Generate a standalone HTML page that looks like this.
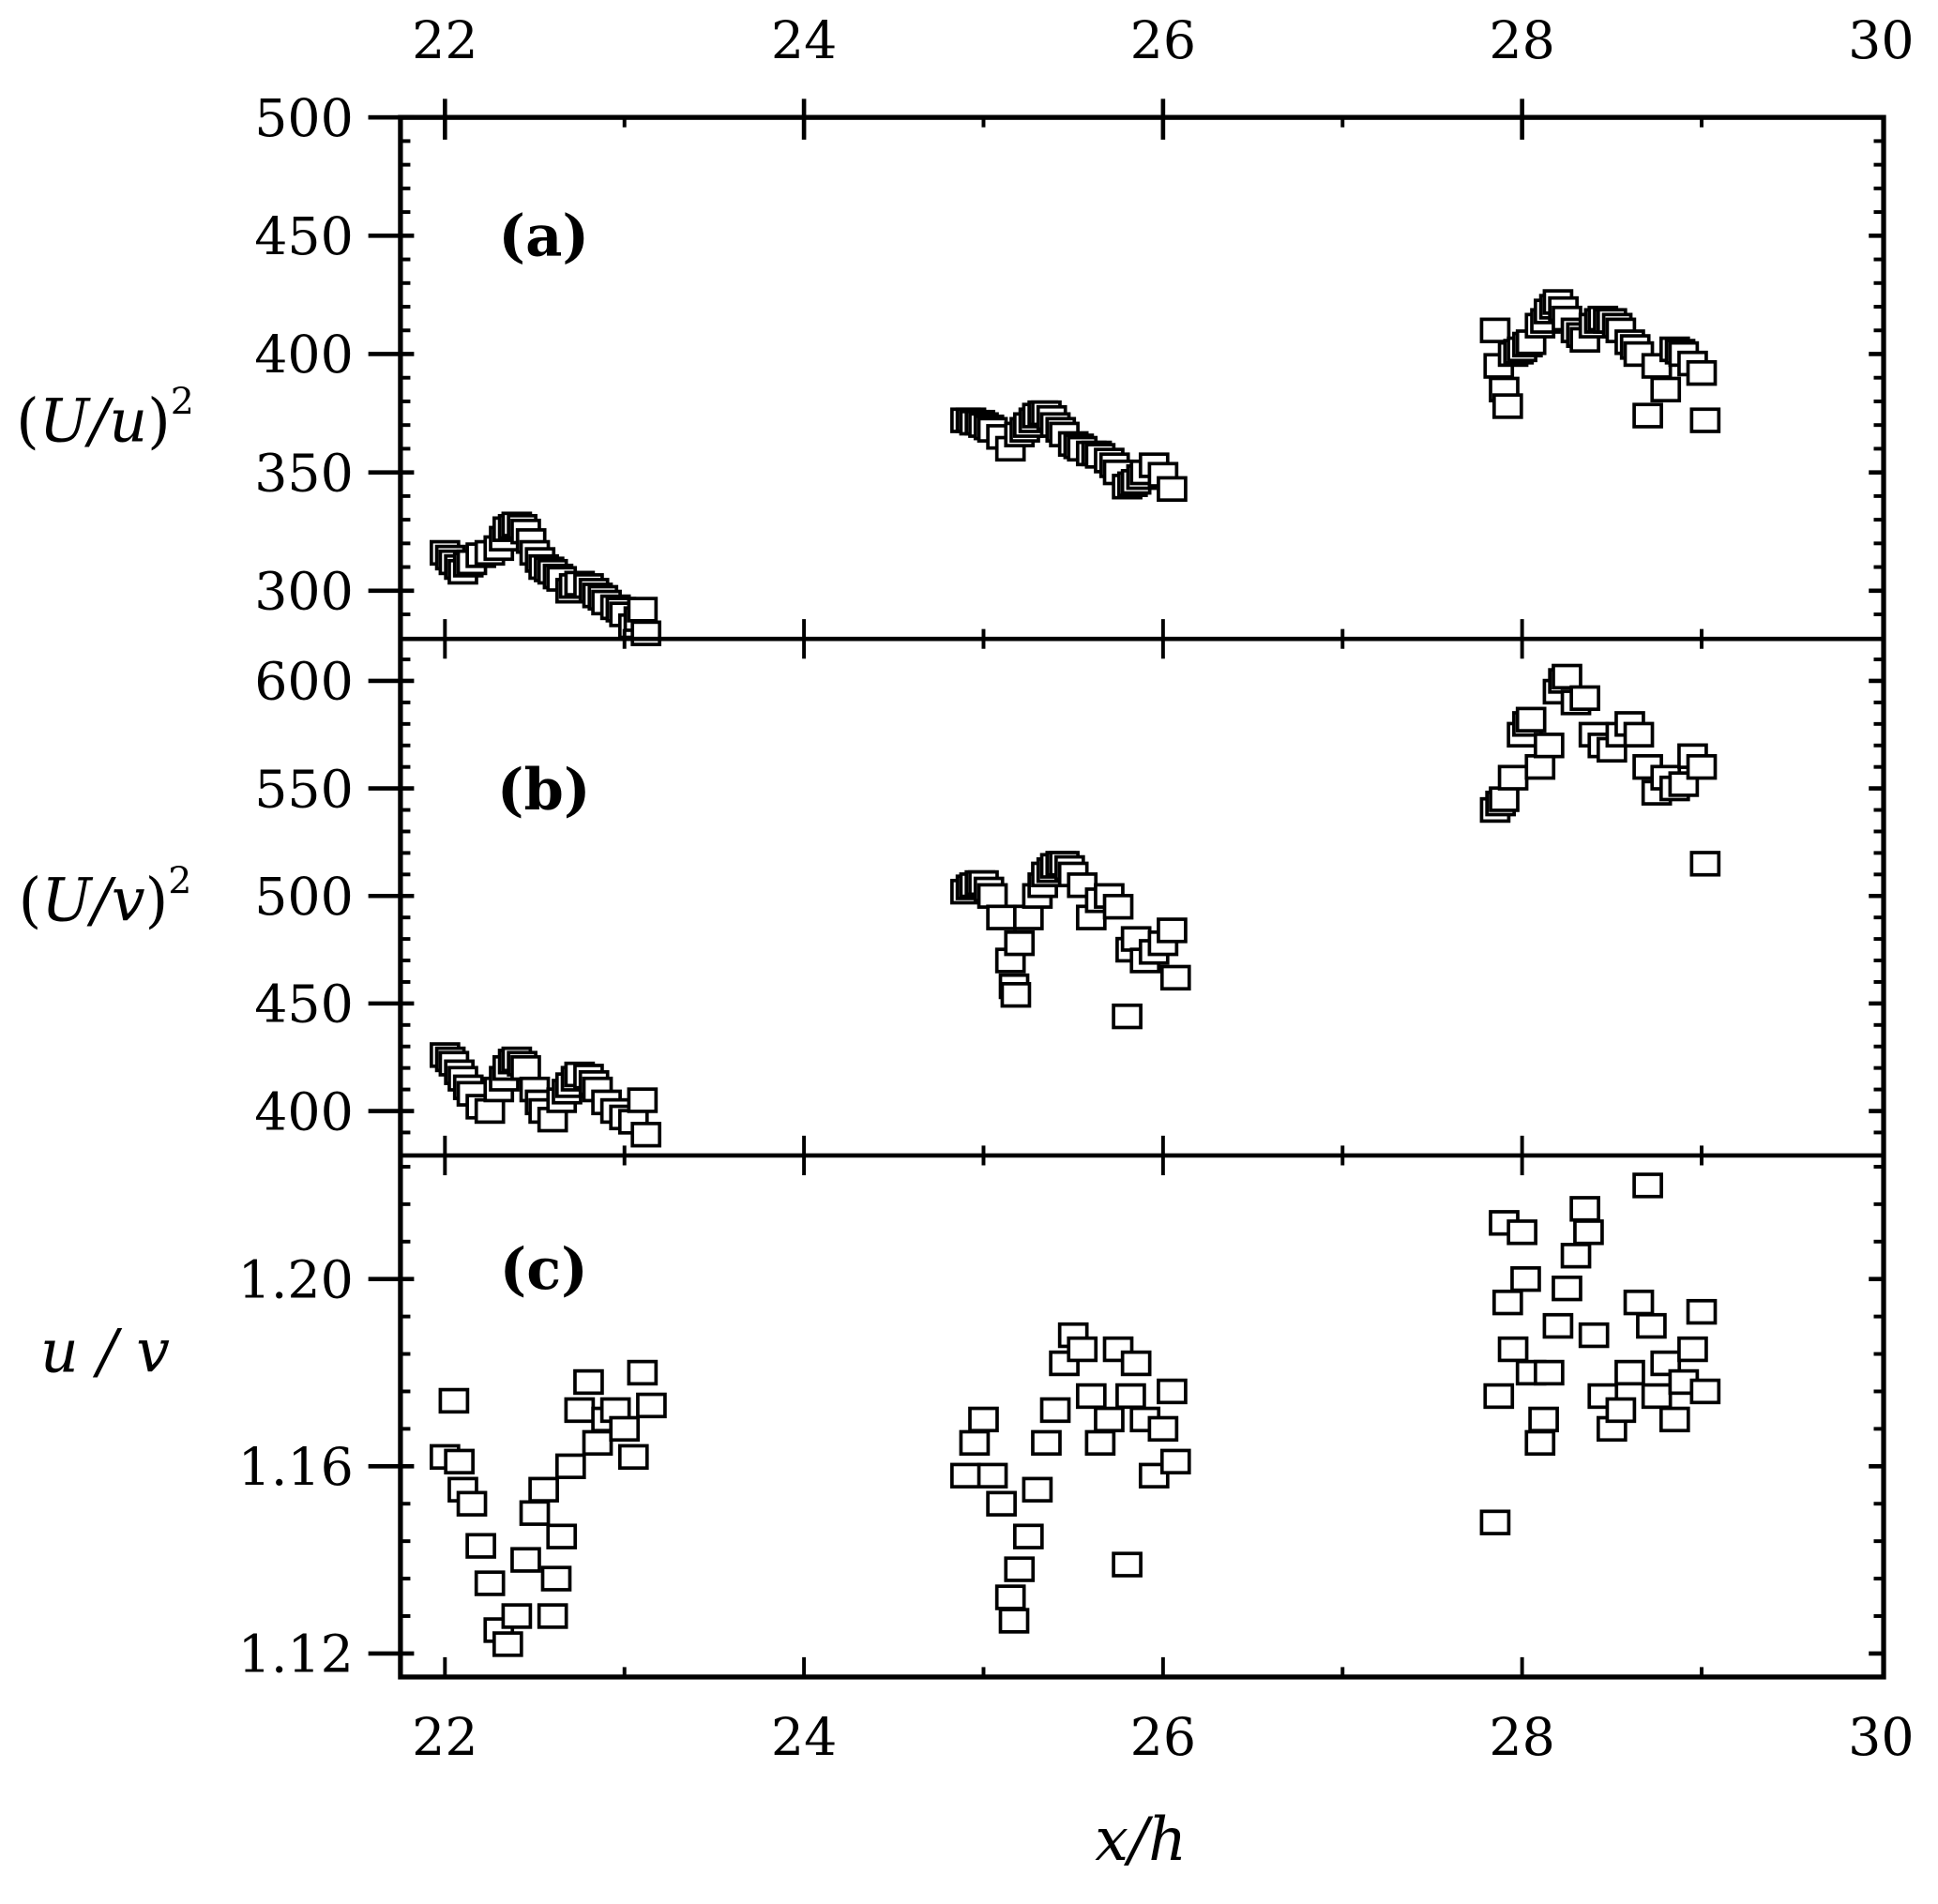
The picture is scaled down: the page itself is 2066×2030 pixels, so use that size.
<!DOCTYPE html>
<html><head><meta charset="utf-8"><style>
html,body{margin:0;padding:0;background:#fff}
svg{display:block}
text{font-family:"DejaVu Serif","Liberation Serif",serif;fill:#000}
</style></head><body>
<svg id="chart" width="2066" height="2030" viewBox="0 0 1568 1540.7" preserveAspectRatio="none" xmlns="http://www.w3.org/2000/svg"></svg>
<script>
const xTicks=[22,24,26,28,30];
const aTicks=[300,350,400,450,500];
const bTicks=[400,450,500,550,600];
const cTicks=[1.12,1.16,1.20];
const cTickLabels=["1.12","1.16","1.20"];
const aX=[22.0,22.03,22.05,22.08,22.1,22.13,22.15,22.2,22.25,22.3,22.33,22.35,22.38,22.4,22.43,22.45,22.48,22.5,22.53,22.55,22.58,22.6,22.63,22.65,22.7,22.72,22.75,22.8,22.83,22.85,22.88,22.9,22.95,22.98,23.0,23.05,23.08,23.1,23.12,
24.9,24.93,24.95,24.98,25.0,25.03,25.05,25.1,25.15,25.2,25.23,25.25,25.28,25.3,25.33,25.35,25.38,25.4,25.43,25.45,25.5,25.53,25.55,25.6,25.63,25.65,25.7,25.73,25.75,25.8,25.83,25.85,25.88,25.9,25.95,26.0,26.05,
27.85,27.87,27.9,27.92,27.95,27.98,28.0,28.03,28.05,28.1,28.13,28.15,28.18,28.2,28.23,28.25,28.3,28.33,28.35,28.4,28.43,28.45,28.48,28.5,28.53,28.55,28.6,28.63,28.65,28.7,28.75,28.8,28.85,28.88,28.9,28.95,29.0,29.02];
const aY=[316,314,312,310,308,311,312,315,316,318,322,326,327,328,327,325,321,316,313,310,309,308,306,305,300,302,303,302,300,298,297,295,293,292,290,285,288,292,282,
372,372,371,371,370,369,368,365,360,366,368,370,372,374,375,375,373,370,368,366,362,361,360,358,358,357,355,353,350,344,345,346,348,350,353,349,343,
410,395,385,378,400,401,402,404,405,412,414,418,420,422,419,415,410,408,406,412,414,415,414,414,412,410,405,403,400,374,395,385,402,401,400,396,392,372];
const bX=[22.0,22.03,22.05,22.08,22.1,22.13,22.15,22.2,22.25,22.3,22.33,22.35,22.38,22.4,22.43,22.45,22.5,22.53,22.55,22.6,22.65,22.68,22.7,22.73,22.75,22.8,22.83,22.85,22.9,22.95,23.0,23.05,23.1,23.12,
24.9,24.93,24.95,24.98,25.0,25.03,25.05,25.1,25.15,25.17,25.18,25.2,25.25,25.3,25.33,25.35,25.38,25.4,25.43,25.45,25.48,25.5,25.55,25.6,25.65,25.7,25.75,25.8,25.82,25.85,25.9,25.95,26.0,26.05,26.07,
27.85,27.88,27.9,27.95,28.0,28.03,28.05,28.1,28.15,28.2,28.23,28.25,28.3,28.35,28.4,28.45,28.5,28.55,28.6,28.65,28.7,28.75,28.8,28.85,28.9,28.95,29.0,29.02];
const bY=[426,424,422,418,415,411,408,402,400,410,415,420,423,424,422,420,410,404,400,396,405,409,412,415,417,416,413,410,404,400,397,395,405,389,
502,504,505,506,506,503,500,490,470,458,454,478,490,500,505,510,512,514,515,515,513,510,505,490,498,500,495,444,475,480,470,474,478,484,462,
540,543,545,555,575,580,582,560,570,595,600,602,590,592,575,570,568,575,580,575,560,548,555,550,552,565,560,515];
const cX=[22.0,22.05,22.08,22.1,22.15,22.2,22.25,22.3,22.35,22.4,22.45,22.5,22.55,22.6,22.62,22.65,22.7,22.75,22.8,22.85,22.9,22.95,23.0,23.05,23.1,23.15,
24.9,24.95,25.0,25.05,25.1,25.15,25.17,25.2,25.25,25.3,25.35,25.4,25.45,25.5,25.55,25.6,25.65,25.7,25.75,25.8,25.82,25.85,25.9,25.95,26.0,26.05,26.07,
27.85,27.87,27.9,27.92,27.95,28.0,28.02,28.05,28.1,28.12,28.15,28.2,28.25,28.3,28.35,28.37,28.4,28.45,28.5,28.55,28.6,28.65,28.7,28.72,28.75,28.8,28.85,28.9,28.95,29.0,29.02];
const cY=[1.162,1.174,1.161,1.155,1.152,1.143,1.135,1.125,1.122,1.128,1.140,1.150,1.155,1.128,1.136,1.145,1.160,1.172,1.178,1.165,1.170,1.172,1.168,1.162,1.180,1.173,
1.158,1.165,1.170,1.158,1.152,1.132,1.127,1.138,1.145,1.155,1.165,1.172,1.182,1.188,1.185,1.175,1.165,1.170,1.185,1.139,1.175,1.182,1.170,1.158,1.168,1.176,1.161,
1.148,1.175,1.212,1.195,1.185,1.210,1.200,1.180,1.165,1.170,1.180,1.190,1.198,1.205,1.215,1.210,1.188,1.175,1.168,1.172,1.180,1.195,1.220,1.190,1.175,1.182,1.170,1.178,1.185,1.193,1.176];

const svg=document.getElementById('chart');
const NS='http://www.w3.org/2000/svg';
function mk(tag,attrs,parent){const e=document.createElementNS(NS,tag);for(const k in attrs)e.setAttribute(k,attrs[k]);(parent||svg).appendChild(e);return e;}
const L=324,R=1524;
const sx=v=>360+(v-22)*145.25;
const panels=[
 {name:'panel-a',top:95,bot:517,y:v=>95+(500-v)*95.75/50,ticks:aTicks,labels:aTicks.map(String),minor:10,lo:280,hi:500,xs:aX,ys:aY,tag:'(a)',tagY:207},
 {name:'panel-b',top:517,bot:935,y:v=>551+(600-v)*87/50,ticks:bTicks,labels:bTicks.map(String),minor:10,lo:380,hi:619,xs:bX,ys:bY,tag:'(b)',tagY:655},
 {name:'panel-c',top:935,bot:1357,y:v=>1035+(1.20-v)*151.5/0.04,ticks:cTicks,labels:cTickLabels,minor:0.008,lo:1.118,hi:1.226,xs:cX,ys:cY,tag:'(c)',tagY:1043}
];
panels.forEach(p=>{
  const g=mk('g',{});
  
  
  const mg=mk('g',{},g);
  
  
  for(let i=0;i<p.xs.length;i++){
    const r=mk('rect',{x:sx(p.xs[i])-11,y:p.y(p.ys[i])-9,width:22,height:18,fill:'#fff',stroke:'#000','stroke-width':2.8},mg);
    
    
  }
  for(let v=p.ticks[0]-p.minor*5;v<=p.hi;v+=p.minor){
    const yy=p.y(v); if(yy<p.top+4||yy>p.bot-4) continue;
    mk('line',{x1:L,x2:L+8,y1:yy,y2:yy,stroke:'#000','stroke-width':3},g);
    mk('line',{x1:R-8,x2:R,y1:yy,y2:yy,stroke:'#000','stroke-width':3},g);
  }
  p.ticks.forEach((v,i)=>{
    const yy=p.y(v);
    mk('line',{x1:298,x2:335,y1:yy,y2:yy,stroke:'#000','stroke-width':3.5},g);
    mk('line',{x1:R-12,x2:R,y1:yy,y2:yy,stroke:'#000','stroke-width':3.5},g);
    const t=mk('text',{x:286,y:yy+15,'text-anchor':'end','font-size':42},g);
    t.textContent=p.labels[i];
    
    
  });
  for(let v=22;v<=30;v++){
    const xx=sx(v); if(xx>R-5) continue;
    const len=(v%2===0)?16:8;
    mk('line',{x1:xx,x2:xx,y1:p.bot-len,y2:p.bot,stroke:'#000','stroke-width':3},g);
    mk('line',{x1:xx,x2:xx,y1:p.top,y2:p.top+len,stroke:'#000','stroke-width':3},g);
  }
  const tg=mk('text',{x:440,y:p.tagY,'text-anchor':'middle','font-size':46,'font-weight':'bold'},g);
  tg.textContent=p.tag;
  
  
});
mk('rect',{x:L,y:95,width:R-L,height:1357-95,fill:'none',stroke:'#000','stroke-width':4});
mk('line',{x1:L,x2:R,y1:517,y2:517,stroke:'#000','stroke-width':3.5});
mk('line',{x1:L,x2:R,y1:935,y2:935,stroke:'#000','stroke-width':3.5});
mk('line',{x1:298,x2:L,y1:95,y2:95,stroke:'#000','stroke-width':3.5});
xTicks.forEach(v=>{const xx=sx(v); if(xx<R-5) mk('line',{x1:xx,x2:xx,y1:80,y2:113,stroke:'#000','stroke-width':3.5});});
xTicks.forEach(v=>{
  const xx=sx(v);
  const t1=mk('text',{x:xx,y:47,'text-anchor':'middle','font-size':42});t1.textContent=String(v);
  
  
  const t2=mk('text',{x:xx,y:1420,'text-anchor':'middle','font-size':42});t2.textContent=String(v);
  
  
});
function ylab(html,y,name){
  const t=mk('text',{x:85,y:y,'text-anchor':'middle','font-size':48,'font-style':'italic'});
  t.innerHTML=html;
  
  
}
ylab('<tspan font-style="normal">(</tspan>U/u<tspan font-style="normal">)</tspan><tspan font-size="30" dy="-22" font-style="normal">2</tspan>',357,'y-axis-title-a');
ylab('<tspan font-style="normal">(</tspan>U/v<tspan font-style="normal">)</tspan><tspan font-size="30" dy="-22" font-style="normal">2</tspan>',745,'y-axis-title-b');
ylab('u / v',1110,'y-axis-title-c');
const xt=mk('text',{x:923,y:1505,'text-anchor':'middle','font-size':48,'font-style':'italic'});
xt.textContent='x/h';


</script>
</body></html>
